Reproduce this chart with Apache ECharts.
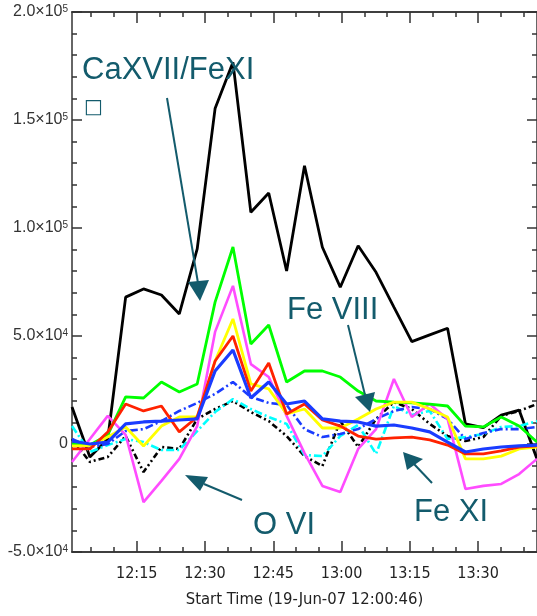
<!DOCTYPE html>
<html>
<head>
<meta charset="utf-8">
<script src="https://cdn.jsdelivr.net/npm/echarts@6/dist/echarts.min.js"></script>
<style>
html,body{margin:0;padding:0;background:#fff;}
#c{width:537px;height:616px;}
</style>
</head>
<body>
<div id="c"></div>
<script>
// time of each sample, minutes after 12:00 (start 12:00:46)
const times = [0.77, 4.70, 8.63, 12.56, 16.49, 20.42, 24.35, 28.28, 32.21, 36.14, 40.07, 44.00, 47.93, 51.86, 55.79, 59.72, 63.65, 67.58, 71.51, 75.44, 79.37, 83.30, 87.23, 91.16, 95.09, 99.02, 102.95];

const caXVII_FeXI = [17100, -6000, 2300, 68000, 71800, 69000, 60200, 90300, 155300, 176700, 107300, 116200, 80100, 128800, 91100, 72600, 91800, 79500, 63400, 47400, 50500, 53600, 9300, 7600, 13400, 15700, -6900];
const blackDashDot = [2300, -8300, -6000, 3700, -13000, -1400, -2300, 11600, 16200, 19900, 14800, 10600, 3700, -5600, -10200, 10600, -1400, 11600, 19400, 16200, 9300, 3700, 1400, 3200, 13000, 15300, 18500];
const cyanDashDot = [8300, -3700, -500, 2300, 900, -2800, -2800, 6000, 14800, 20800, 16200, 12500, 9300, -5100, -5600, 3700, 8800, -4600, 17600, 13400, 15300, 2300, 3200, 4600, 7900, 8300, 10600];
const blueDashDot = [2300, -1400, 0, 6000, 6900, 10600, 15300, 19000, 23200, 28700, 21800, 19000, 18100, 6900, 3200, 4600, 6900, 11600, 15300, 17100, 16200, 11600, 2300, 5100, 6900, 6900, 7900];
const magentaLine = [-8300, 2300, 13000, 4200, -26900, -17100, -6900, 8300, 51900, 73200, 37000, 31000, 13000, -4200, -19400, -22200, -2300, 6900, 30100, 12500, 18500, 11600, -20800, -19400, -18500, -13900, -6900];
const greenLine = [0, -500, 4200, 21800, 21300, 28700, 24100, 27800, 65700, 91200, 46300, 55100, 28700, 33800, 33800, 31000, 24500, 19900, 19400, 19000, 18500, 17600, 8300, 7900, 12500, 8300, 900];
const yellowLine = [-900, -900, 3200, 7900, -900, 8300, 12500, 12500, 38400, 57900, 27800, 25500, 13900, 16200, 7400, 7400, 11600, 16200, 19400, 19400, 16200, 12500, -6900, -6900, -5600, -2300, -1400];
const redLine = [-2300, -2300, 5600, 18500, 15300, 17600, 5600, 12500, 38400, 50000, 24500, 37500, 13900, 18500, 11100, 8300, 3700, 2300, 2800, 3200, 1900, -500, -4600, -4600, -3200, -1400, -900];
const blueLine = [1400, 0, 900, 9300, 10200, 10600, 11100, 11600, 33800, 43500, 21300, 28700, 18500, 19900, 11600, 10600, 10200, 8300, 8800, 7400, 5600, 900, -3700, -2300, -1400, -900, -500];

const xTickValues = [15, 30, 45, 60, 75, 90];
const xTickLabels = ['12:15', '12:30', '12:45', '13:00', '13:15', '13:30'];
const xMinorValues = [5, 10, 15, 20, 25, 30, 35, 40, 45, 50, 55, 60, 65, 70, 75, 80, 85, 90, 95, 100];
const yTickValues = [-50000, 0, 50000, 100000, 150000, 200000];
const yTickMantissa = ['-5.0×10', '0', '5.0×10', '1.0×10', '1.5×10', '2.0×10'];
const yTickExponent = ['4', '', '4', '5', '5', '5'];

const X_MIN = 0.77, X_MAX = 102.95;
const AXIS_COLOR = '#333';
const TEAL = '#135b6c';

function pair(arr) { return times.map((t, i) => [t, arr[i]]); }

const seriesDefs = [
  { name: 'CaXVII/FeXI', data: caXVII_FeXI, color: '#000000', width: 2.8, type: 'solid' },
  { name: 'black dash-dot', data: blackDashDot, color: '#000000', width: 2.6, type: [6, 3, 2, 3, 2, 3] },
  { name: 'cyan', data: cyanDashDot, color: '#00ffff', width: 2.6, type: [8, 3, 2, 3] },
  { name: 'blue dash-dot', data: blueDashDot, color: '#1a3cff', width: 2.6, type: [8, 3, 2, 3] },
  { name: 'magenta', data: magentaLine, color: '#ff4cff', width: 2.6, type: 'solid' },
  { name: 'green', data: greenLine, color: '#00ff00', width: 2.8, type: 'solid' },
  { name: 'yellow', data: yellowLine, color: '#ffff00', width: 2.8, type: 'solid' },
  { name: 'red', data: redLine, color: '#ff2200', width: 2.8, type: 'solid' },
  { name: 'blue', data: blueLine, color: '#1a3cff', width: 3.2, type: 'solid' }
];

const tickFont = "'Liberation Sans Narrow', 'DejaVu Sans Condensed', sans-serif";

function xAxisDef(pos, major, showLabel, showName) {
  return {
    type: 'value', position: pos, min: X_MIN, max: X_MAX,
    splitLine: { show: false },
    axisLine: { show: true, onZero: false, lineStyle: { color: AXIS_COLOR, width: 1.5 } },
    axisTick: { show: true, inside: true, length: major ? 11 : 5,
      customValues: major ? xTickValues : xMinorValues,
      lineStyle: { color: AXIS_COLOR, width: 1.5 } },
    axisLabel: { show: showLabel, customValues: xTickValues, margin: 14,
      fontFamily: tickFont, fontSize: 16, color: '#222',
      formatter: v => xTickLabels[xTickValues.indexOf(v)] },
    name: showName ? 'Start Time (19-Jun-07 12:00:46)' : '',
    nameLocation: 'middle', nameGap: 39,
    nameTextStyle: { fontFamily: tickFont, fontSize: 16.5, color: '#222' }
  };
}

function yAxisDef(pos, showLabel) {
  return {
    type: 'value', position: pos, min: -50000, max: 200000, interval: 50000,
    splitLine: { show: false },
    axisLine: { show: true, onZero: false, lineStyle: { color: AXIS_COLOR, width: 1.5 } },
    axisTick: { show: true, inside: true, length: 10, lineStyle: { color: AXIS_COLOR, width: 1.5 } },
    minorTick: { show: true, splitNumber: 5, length: 5, lineStyle: { color: AXIS_COLOR, width: 1.5 } },
    axisLabel: { show: showLabel, margin: 4, color: '#333',
      rich: {
        m: { fontFamily: "'Liberation Sans', Arial, sans-serif", fontSize: 16, color: '#333' },
        e: { fontFamily: "'Liberation Sans', Arial, sans-serif", fontSize: 10, color: '#333', verticalAlign: 'top', padding: [0, 0, 6, 0] }
      },
      formatter: v => {
        const k = yTickValues.indexOf(v);
        if (k < 0) return '';
        return yTickExponent[k] ? '{m|' + yTickMantissa[k] + '}{e|' + yTickExponent[k] + '}' : '{m|' + yTickMantissa[k] + '}';
      } }
  };
}

const chart = echarts.init(document.getElementById('c'), null, { renderer: 'canvas' });

const annFont = "'Liberation Sans', Arial, sans-serif";
function label(text, x, y, size) {
  return { type: 'text', x: x, y: y, z: 100,
    style: { text: text, fill: TEAL, font: size + 'px ' + annFont, textAlign: 'left', textVerticalAlign: 'middle' } };
}
function arrow(x1, y1, x2, y2, pts) {
  return [
    { type: 'line', z: 100, shape: { x1: x1, y1: y1, x2: x2, y2: y2 }, style: { stroke: TEAL, lineWidth: 2 } },
    { type: 'polygon', z: 100, shape: { points: pts }, style: { fill: TEAL } }
  ];
}

const graphics = [
  label('CaXVII/FeXI', 82, 70, 31),
  { type: 'text', x: 84, y: 108, z: 100, style: { text: '□', fill: TEAL, font: "20px 'DejaVu Sans'", textAlign: 'left', textVerticalAlign: 'middle' } },
  label('Fe VIII', 287, 310, 31),
  label('O VI', 253, 525, 31),
  label('Fe XI', 414, 512, 31)
].concat(
  arrow(167, 98, 198, 283, [[188, 282], [209, 280], [200, 301]]),
  arrow(348, 325, 365, 395, [[355, 397], [375, 392], [370, 412]]),
  arrow(242, 500, 204, 484, [[185, 475], [208, 477], [200, 491]]),
  arrow(432, 483, 414, 464, [[403, 452], [423, 459], [407, 470]])
);

chart.setOption({
  animation: false,
  backgroundColor: '#ffffff',
  grid: { left: 72, right: 0, top: 12, bottom: 64, containLabel: false },
  xAxis: [
    xAxisDef('bottom', true, true, true),
    xAxisDef('bottom', false, false, false),
    xAxisDef('top', true, false, false),
    xAxisDef('top', false, false, false)
  ],
  yAxis: [
    yAxisDef('left', true),
    yAxisDef('right', false)
  ],
  series: seriesDefs.map(s => ({
    name: s.name, type: 'line', xAxisIndex: 0, yAxisIndex: 0,
    data: pair(s.data), showSymbol: false, symbol: 'none',
    lineStyle: { color: s.color, width: s.width, type: s.type },
    itemStyle: { color: s.color }, silent: true
  })),
  graphic: graphics
});
</script>
</body>
</html>
